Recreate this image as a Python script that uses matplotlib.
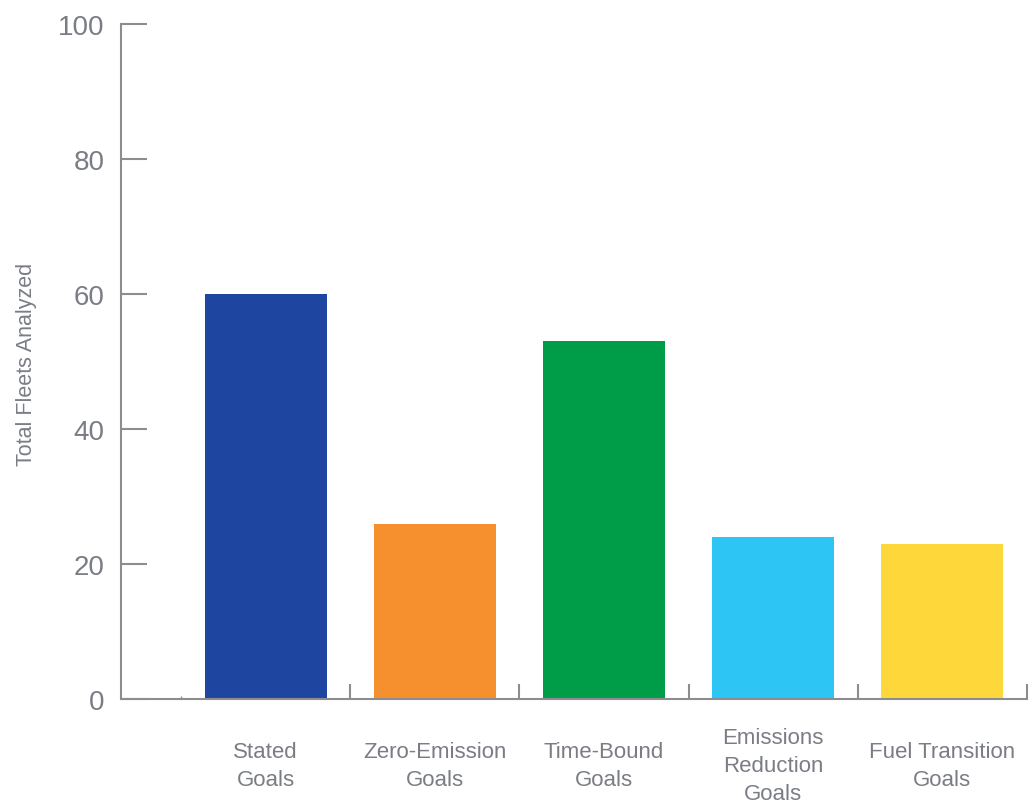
import matplotlib.pyplot as plt
from matplotlib.transforms import blended_transform_factory

categories = ["Stated\nGoals", "Zero-Emission\nGoals", "Time-Bound\nGoals",
              "Emissions\nReduction\nGoals", "Fuel Transition\nGoals"]
values = [60, 26, 53, 24, 23]
colors = ["#1e45a0", "#f6902e", "#009d48", "#2cc5f4", "#fed83a"]
yticks = [0, 20, 40, 60, 80, 100]

text_gray = "#7b7d85"
axis_gray = "#8c8c91"
plt.rcParams['font.family'] = ['Liberation Sans', 'DejaVu Sans']

fig = plt.figure(figsize=(10.34, 8.03), dpi=100)
ax = fig.add_axes([121/1034, 1 - 700/803, 906/1034, 675/803])

x = list(range(len(values)))
ax.bar(x, values, width=0.72, color=colors, zorder=2)

ax.set_ylim(0, 100)
ax.set_xlim(-0.855, 4.5)

for s in ["top", "right"]:
    ax.spines[s].set_visible(False)
for s in ["left", "bottom"]:
    ax.spines[s].set_color(axis_gray)
    ax.spines[s].set_linewidth(1.5)

ax.set_yticks(yticks)
ax.tick_params(axis="y", direction="in", length=19, width=1.5, color=axis_gray,
               labelcolor=text_gray, labelsize=20, pad=12)
ax.set_xticks([0.5, 1.5, 2.5, 3.5, 4.5])
ax.set_xticklabels([])
ax.tick_params(axis="x", direction="in", length=11, width=1.5, color=axis_gray)
ax.set_xticks([-0.5], minor=True)
ax.tick_params(axis="x", which="minor", direction="in", length=2, width=1, color=axis_gray)

trans = blended_transform_factory(ax.transData, ax.transAxes)
for xi, lab in zip(x, categories):
    ax.text(xi, -0.0985, lab, transform=trans, ha="center", va="center",
            fontsize=16, color=text_gray, linespacing=1.42)

fig.text(27/1034, 1 - 364/803, "Total Fleets Analyzed", rotation=90,
         ha="center", va="center", fontsize=15.5, color=text_gray)

fig.savefig("out.png", dpi=100)
